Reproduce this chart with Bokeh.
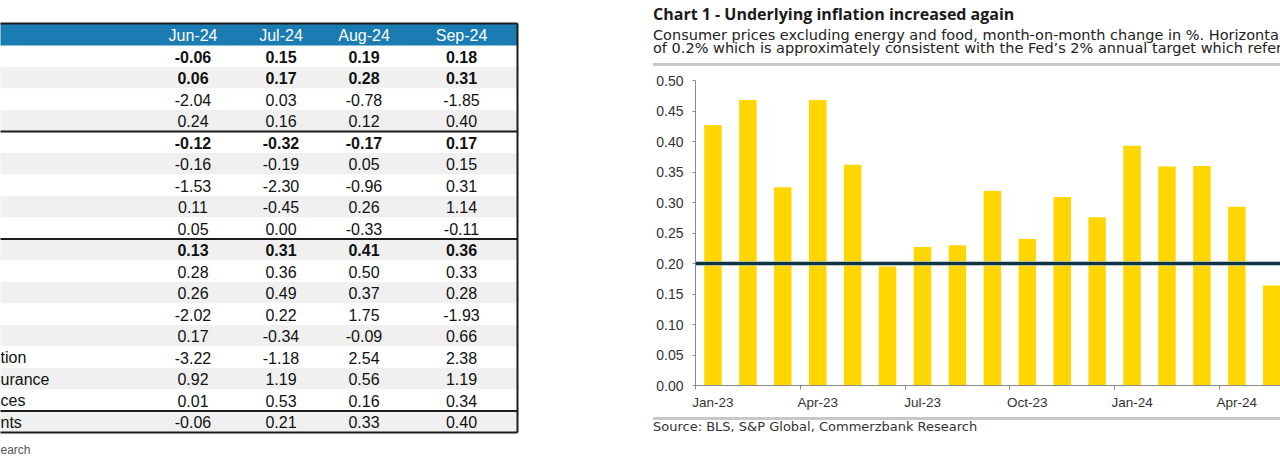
import numpy as np
from bokeh.plotting import figure
from bokeh.models import Range1d, FixedTicker, NumeralTickFormatter, Span, Div
from bokeh.layouts import row, column
from bokeh.embed import file_html
from bokeh.resources import INLINE
from bokeh.core.properties import value

# ---------------- table data (cropped table on the left) ----------------
table_months = ["Jun-24", "Jul-24", "Aug-24", "Sep-24"]
row_labels = ["", "", "", "", "", "", "", "", "", "", "", "", "", "",
              "tion", "urance", "ces", "nts"]
jun24 = [-0.06, 0.06, -2.04, 0.24, -0.12, -0.16, -1.53, 0.11, 0.05,
         0.13, 0.28, 0.26, -2.02, 0.17, -3.22, 0.92, 0.01, -0.06]
jul24 = [0.15, 0.17, 0.03, 0.16, -0.32, -0.19, -2.30, -0.45, 0.00,
         0.31, 0.36, 0.49, 0.22, -0.34, -1.18, 1.19, 0.53, 0.21]
aug24 = [0.19, 0.28, -0.78, 0.12, -0.17, 0.05, -0.96, 0.26, -0.33,
         0.41, 0.50, 0.37, 1.75, -0.09, 2.54, 0.56, 0.16, 0.33]
sep24 = [0.18, 0.31, -1.85, 0.40, 0.17, 0.15, 0.31, 1.14, -0.11,
         0.36, 0.33, 0.28, -1.93, 0.66, 2.38, 1.19, 0.34, 0.40]
bold_rows = [0, 1, 4, 9]
group_starts = [4, 9, 17]
table_source_fragment = "earch"

# ---------------- chart data ----------------
chart_months = ["Jan-23", "Feb-23", "Mar-23", "Apr-23", "May-23", "Jun-23",
                "Jul-23", "Aug-23", "Sep-23", "Oct-23", "Nov-23", "Dec-23",
                "Jan-24", "Feb-24", "Mar-24", "Apr-24", "May-24"]
core_mom = [0.427, 0.468, 0.325, 0.468, 0.362, 0.195, 0.227, 0.230, 0.319,
            0.240, 0.309, 0.276, 0.393, 0.359, 0.360, 0.293, 0.164]
target_rate = 0.20
chart_title = "Chart 1 - Underlying inflation increased again"
subtitle_lines = [
    "Consumer prices excluding energy and food, month-on-month change in %. Horizonta",
    "of 0.2% which is approximately consistent with the Fed\u2019s 2% annual target which refer",
]
source_text = "Source: BLS, S&P Global, Commerzbank Research"

# ---------------- styles ----------------
ARIAL = value("Liberation Sans")
HEADER_BLUE = "#1b7cb4"
ROW_GREY = "#f0f0f0"
RULE = "#1c1c1c"
GOLD = "#ffd600"
TEAL = "#0d3546"

# ================= TABLE FIGURE =================
TW, H = 600, 457
t = figure(width=TW, height=H, x_range=Range1d(0, TW), y_range=Range1d(H, 0),
           output_backend="svg", toolbar_location=None,
           x_axis_location=None, y_axis_location=None, min_border=0)
t.grid.visible = False
t.outline_line_color = None

HEAD_TOP, HEAD_BOT, ROW_H = 23.0, 45.0, 21.5
T_LEFT, T_RIGHT = -5, 517
col_x = [192.5, 280.5, 363.5, 461.0]
n = len(jun24)
tops = HEAD_BOT + np.arange(n) * ROW_H
mids = tops + ROW_H / 2 + 0.5
fills = ["#ffffff" if i % 2 == 0 else ROW_GREY for i in range(n)]
t.quad(left=T_LEFT, right=T_RIGHT, top=tops, bottom=tops + ROW_H,
       fill_color=fills, line_color=None)
t.quad(left=T_LEFT, right=T_RIGHT, top=HEAD_TOP, bottom=HEAD_BOT,
       fill_color=HEADER_BLUE, line_color=None)
t.text(x=col_x, y=[(HEAD_TOP + HEAD_BOT) / 2 + 0.5] * 4, text=table_months,
       text_color="white", text_align="center", text_baseline="middle",
       text_font=ARIAL, text_font_size="16px")

cols = [jun24, jul24, aug24, sep24]
for bold in (False, True):
    xs, ys, txt = [], [], []
    for j, colvals in enumerate(cols):
        for i, v in enumerate(colvals):
            if (i in bold_rows) == bold:
                xs.append(col_x[j]); ys.append(mids[i]); txt.append(f"{v:.2f}")
    t.text(x=xs, y=ys, text=txt, text_color="#111111", text_align="center",
           text_baseline="middle", text_font=ARIAL, text_font_size="16px",
           text_font_style="bold" if bold else "normal")

t.text(x=[0] * n, y=mids, text=row_labels, text_color="#111111",
       text_align="left", text_baseline="middle", text_font=ARIAL,
       text_font_size="16px")

sep_y = [HEAD_TOP] + [tops[g] for g in group_starts] + [HEAD_BOT + n * ROW_H]
t.segment(x0=T_LEFT, x1=T_RIGHT, y0=sep_y, y1=sep_y, line_color=RULE, line_width=2)
t.segment(x0=T_RIGHT, x1=T_RIGHT, y0=HEAD_TOP, y1=HEAD_BOT + n * ROW_H,
          line_color=RULE, line_width=2)
t.text(x=[0], y=[449], text=[table_source_fragment], text_color="#555555",
       text_align="left", text_baseline="alphabetic", text_font=ARIAL,
       text_font_size="12px")

# ================= CHART HEADER (HTML) =================
CW = 680
SUB_STYLE = ("position:absolute;left:53px;white-space:nowrap;"
             "font-family:'DejaVu Sans';font-size:14.5px;line-height:12.5px;color:#222;")
hdr_html = (
    '<div style="position:relative;width:680px;height:72px;overflow:hidden;">'
    '<div style="position:absolute;left:53px;top:5.5px;white-space:nowrap;'
    "font-family:'Open Sans';font-weight:bold;font-size:16px;line-height:16px;color:#1a1a1a;\">"
    f'{chart_title}</div>'
    f'<div style="{SUB_STYLE}top:29px;">{subtitle_lines[0]}</div>'
    f'<div style="{SUB_STYLE}top:41.5px;">{subtitle_lines[1]}</div>'
    '<div style="position:absolute;left:53px;top:63px;width:627px;height:3px;background:#c8c8c8;"></div>'
    '</div>'
)
hdr = Div(text=hdr_html, width=CW, height=72, margin=0)

# ================= CHART BODY =================
c = figure(width=CW, height=345, x_range=Range1d(0, 16.75), y_range=Range1d(0, 0.5),
           output_backend="svg", toolbar_location=None,
           min_border_left=95, min_border_right=0, min_border_top=8,
           min_border_bottom=32)
c.grid.visible = False
c.outline_line_color = None
xpos = np.arange(len(core_mom)) + 0.5
c.vbar(x=xpos, top=core_mom, width=0.5, fill_color=GOLD, line_color=None)
c.add_layout(Span(location=target_rate, dimension="width", line_color="#9fb0b7",
                  line_width=5, line_alpha=0.7))
c.add_layout(Span(location=target_rate, dimension="width", line_color=TEAL,
                  line_width=3))

ya = c.yaxis[0]
ya.ticker = FixedTicker(ticks=[0.0, 0.05, 0.10, 0.15, 0.20, 0.25, 0.30, 0.35, 0.40, 0.45, 0.50])
ya.formatter = NumeralTickFormatter(format="0.00")
ya.major_tick_out = 3
ya.major_tick_in = 0
ya.minor_tick_line_color = None
ya.axis_line_color = "#8a8a8a"
ya.major_tick_line_color = "#8a8a8a"
ya.major_label_text_font = "Liberation Sans"
ya.major_label_text_font_size = "14px"
ya.major_label_text_color = "#333333"
ya.major_label_standoff = 9

xa = c.xaxis[0]
label_idx = list(range(0, len(chart_months), 3))
xa.ticker = FixedTicker(ticks=[i + 0.5 for i in label_idx],
                        minor_ticks=[float(i) for i in label_idx])
xa.major_label_overrides = {i + 0.5: chart_months[i] for i in label_idx}
xa.major_tick_out = 0
xa.major_tick_in = 0
xa.major_tick_line_color = None
xa.minor_tick_out = 4
xa.minor_tick_in = 0
xa.minor_tick_line_color = "#8a8a8a"
xa.axis_line_color = "#8a8a8a"
xa.major_label_text_font = "Liberation Sans"
xa.major_label_text_font_size = "13.5px"
xa.major_label_text_color = "#333333"
xa.major_label_standoff = 5

# ================= CHART FOOTER (HTML) =================
ftr_html = (
    '<div style="position:relative;width:680px;height:40px;overflow:hidden;">'
    '<div style="position:absolute;left:53px;top:0px;width:627px;height:2.7px;background:#c8c8c8;"></div>'
    '<div style="position:absolute;left:53px;top:3px;white-space:nowrap;'
    "font-family:'DejaVu Sans';font-size:13px;line-height:13px;color:#333;\">"
    f'{source_text}</div>'
    '</div>'
)
ftr = Div(text=ftr_html, width=CW, height=40, margin=0)

layout = row(t, column(hdr, c, ftr))
open("out.html", "w").write(file_html(layout, INLINE))
